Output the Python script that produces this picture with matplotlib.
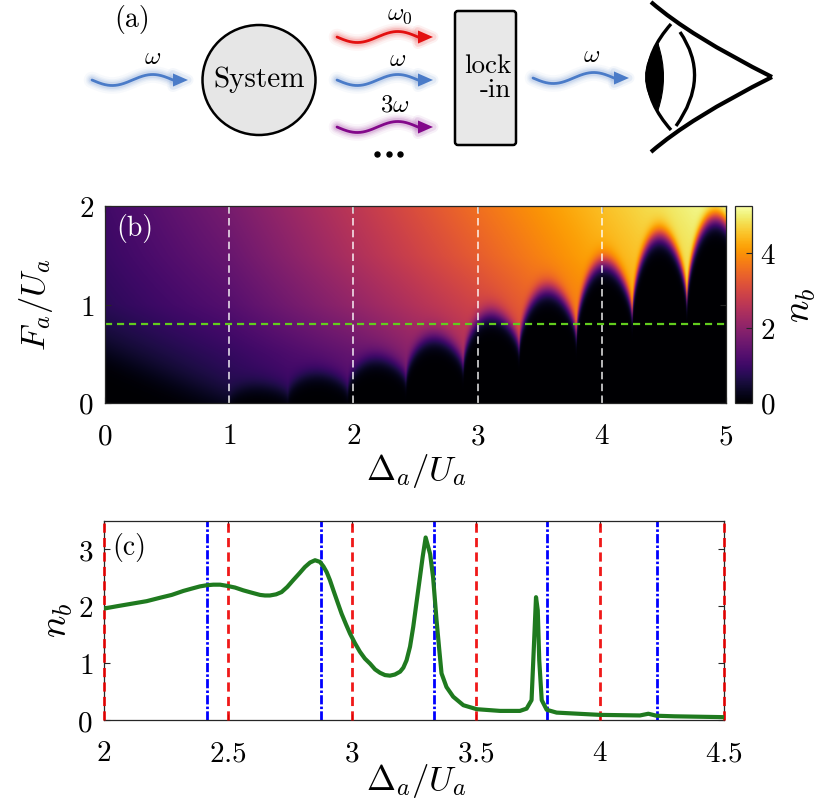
import numpy as np
import matplotlib
matplotlib.use('Agg')
import matplotlib.pyplot as plt
from matplotlib.path import Path
from matplotlib.patches import PathPatch, Ellipse, FancyBboxPatch, Polygon

plt.rcParams['mathtext.fontset'] = 'cm'
plt.rcParams['font.family'] = ['DejaVu Serif']
RM = 'cmr10'

# ------------------------------------------------------------------ data
# panel (b): background level of n_b read on a coarse grid
delta_grid = [0, 1, 2, 3, 4, 5]
F_grid = [0, 0.5, 1, 1.5, 2]
bg_vals = [[0.00, 0.60, 1.10, 2.00, 3.20, 4.30],
           [0.40, 0.90, 1.50, 2.50, 3.60, 4.60],
           [0.80, 1.30, 2.10, 2.95, 4.00, 4.90],
           [0.95, 1.55, 2.45, 3.35, 4.30, 5.10],
           [1.05, 1.75, 2.65, 3.60, 4.50, 5.30]]
# resonance dips (Delta position, lowest F of the bright spike) and dome tops
dip_pos = [1.00, 1.47, 1.95, 2.42, 2.88, 3.33, 3.79, 4.24, 4.68, 5.14]
dip_tip = [0.00, 0.05, 0.10, 0.21, 0.33, 0.52, 0.64, 0.84, 0.98, 1.10]
dome_top = [0.16, 0.29, 0.45, 0.66, 0.90, 1.15, 1.42, 1.70, 1.88]
left_edge_h = 0.45
b_white_lines = [1, 2, 3, 4]
b_green_line = 0.8
b_xticks = [0, 1, 2, 3, 4, 5]
b_yticks = [0, 1, 2]
cb_ticks = [0, 2, 4]
cb_max = 5.27

# panel (c)
c_delta = [2.000, 2.051, 2.118, 2.172, 2.226, 2.273, 2.320, 2.353, 2.387, 2.414,
           2.441, 2.468, 2.495, 2.528, 2.562, 2.595, 2.629, 2.649, 2.669, 2.694,
           2.716, 2.739, 2.763, 2.788, 2.810, 2.831, 2.851, 2.871, 2.885, 2.898,
           2.911, 2.925, 2.941, 2.958, 2.976, 2.992, 3.012, 3.032, 3.052, 3.073,
           3.093, 3.113, 3.133, 3.153, 3.173, 3.194, 3.207, 3.220, 3.234, 3.247,
           3.260, 3.274, 3.285, 3.297, 3.315, 3.327, 3.341, 3.352, 3.361, 3.381,
           3.408, 3.449, 3.503, 3.597, 3.677, 3.704, 3.724, 3.734, 3.742, 3.749,
           3.755, 3.765, 3.785, 3.825, 4.000, 4.161, 4.195, 4.228, 4.300, 4.500]
c_nb = [1.96, 2.00, 2.05, 2.09, 2.15, 2.20, 2.27, 2.31, 2.35, 2.37,
        2.38, 2.38, 2.36, 2.33, 2.28, 2.24, 2.20, 2.19, 2.19, 2.21,
        2.25, 2.34, 2.46, 2.58, 2.69, 2.77, 2.81, 2.78, 2.70, 2.60,
        2.46, 2.28, 2.08, 1.87, 1.68, 1.52, 1.35, 1.20, 1.08, 0.99,
        0.89, 0.83, 0.79, 0.78, 0.80, 0.85, 0.92, 1.05, 1.29, 1.64,
        2.06, 2.51, 2.87, 3.21, 2.92, 2.51, 1.75, 1.23, 0.82, 0.58,
        0.41, 0.26, 0.19, 0.16, 0.16, 0.20, 0.35, 1.35, 2.16, 1.93,
        1.05, 0.35, 0.18, 0.13, 0.09, 0.08, 0.11, 0.075, 0.065, 0.05]
c_red = [2.0, 2.5, 3.0, 3.5, 4.0, 4.5]
c_blue = [2.415, 2.875, 3.33, 3.786, 4.23]
c_xticks = [2, 2.5, 3, 3.5, 4, 4.5]
c_yticks = [0, 1, 2, 3]

# ------------------------------------------------------------------ figure
W, H = 830, 808
fig = plt.figure(figsize=(W / 100, H / 100), dpi=100)


def fr(l, t, r, b):
    return [l / W, 1 - b / H, (r - l) / W, (b - t) / H]


def ftxt(x, y, s, **kw):
    fig.text(x / W, 1 - y / H, s, **kw)


EDGE = '#262626'


def style_axes(ax):
    for sp in ax.spines.values():
        sp.set_color(EDGE)
        sp.set_linewidth(0.9)
    ax.tick_params(direction='in', top=True, right=True, length=4,
                   width=0.8, color=EDGE, labelsize=21)
    ax.tick_params(axis='x', pad=14)
    ax.tick_params(axis='y', pad=8)


def lab(v):
    return '$%g$' % v

# ------------------------------------------------------------------ (a) schematic
axa = fig.add_axes([0, 1 - 170 / H, 1, 170 / H])
axa.set_xlim(0, W)
axa.set_ylim(170, 0)
axa.axis('off')


def wavy(x0, x1, y0, color):
    hl = 15
    xe = x1 - hl
    xs = np.linspace(x0, xe + 2, 200)
    t = (xs - x0) / (xe - x0)
    ys = y0 + 5.5 * np.sin(2 * np.pi * t)
    for lw, a in [(12, 0.04), (9, 0.06), (7, 0.08), (5, 0.12)]:
        axa.plot(xs, ys, color=color, lw=lw, alpha=a, solid_capstyle='round')
    axa.plot(xs, ys, color=color, lw=2.0, solid_capstyle='round')
    tri = [[xe, y0 - 6.5], [x1, y0], [xe, y0 + 6.5]]
    for lw, a in [(8, 0.06), (5, 0.1)]:
        axa.add_patch(Polygon(tri, closed=True, facecolor='none', edgecolor=color,
                              lw=lw, alpha=a, joinstyle='round'))
    axa.add_patch(Polygon(tri, closed=True, color=color, lw=0))


BLUE = '#4a7bc8'
wavy(92, 188, 80, BLUE)
wavy(337, 433, 37, '#e31010')
wavy(337, 433, 80, BLUE)
wavy(337, 433, 127, '#83088a')
wavy(533, 629, 78, BLUE)

axa.add_patch(Ellipse((259, 80), 113, 110, facecolor='#e6e6e6', edgecolor='black', lw=1.8))
axa.text(259, 80, 'System', family=RM, ha='center', va='center', fontsize=21)

axa.add_patch(FancyBboxPatch((455, 11), 61, 134, boxstyle='round,pad=0,rounding_size=3',
                             facecolor='#e8e8e8', edgecolor='black', lw=1.8))
axa.text(511, 66, 'lock', family=RM, ha='right', va='center', fontsize=19.5)
axa.text(511, 90, '-in', family=RM, ha='right', va='center', fontsize=19.5)

axa.text(153, 57, r'$\omega$', ha='center', va='center', fontsize=18)
axa.text(400, 14, r'$\omega_0$', ha='center', va='center', fontsize=18)
axa.text(398, 59, r'$\omega$', ha='center', va='center', fontsize=18)
axa.text(395, 105, r'$3\omega$', ha='center', va='center', fontsize=18)
axa.text(592, 55, r'$\omega$', ha='center', va='center', fontsize=18)
axa.plot([377, 388.5, 400], [154, 154, 154], 'o', color='black', ms=3.6)
axa.text(132, 19, '(a)', family=RM, ha='center', va='center', fontsize=20)


def qcurve(p0, c, p1, **kw):
    path = Path([p0, c, p1], [Path.MOVETO, Path.CURVE3, Path.CURVE3])
    axa.add_patch(PathPatch(path, facecolor='none', **kw))


# eye
qcurve((651, 2), (690, 36), (772, 77), edgecolor='black', lw=3.0, capstyle='butt')
qcurve((651, 152), (690, 118), (772, 77), edgecolor='black', lw=3.0, capstyle='butt')
iris = Path([(658, 44), (633, 77), (658, 110), (669, 77), (658, 44)],
            [Path.MOVETO, Path.CURVE3, Path.CURVE3, Path.CURVE3, Path.CURVE3])
axa.add_patch(PathPatch(iris, facecolor='black', edgecolor='black', lw=0.8))
qcurve((671, 24), (624, 77), (671, 130), edgecolor='black', lw=2.4)
qcurve((680, 32), (711, 77), (676, 126), edgecolor='black', lw=2.4)

# ------------------------------------------------------------------ (b) map
axb = fig.add_axes(fr(105, 206, 726, 403))
nx, ny = 1200, 500
dx = np.linspace(0, 5, nx)
fy = np.linspace(0, 2, ny)
bg_rows = np.array([np.interp(dx, delta_grid, row) for row in bg_vals])
bg = np.empty((ny, nx))
for j in range(nx):
    bg[:, j] = np.interp(fy, F_grid, bg_rows[:, j])
h = np.zeros(nx)
w = np.full(nx, 0.055)
left = dx < dip_pos[0]
h[left] = left_edge_h * (1 - dx[left] / dip_pos[0]) ** 1.2
w[left] = 0.10
for k in range(len(dome_top)):
    a, b = dip_pos[k], dip_pos[k + 1]
    sel = (dx >= a) & (dx < b)
    t = (dx[sel] - a) / (b - a)
    lo = dip_tip[k] + (dip_tip[k + 1] - dip_tip[k]) * t
    h[sel] = lo + (dome_top[k] - lo) * np.sin(np.pi * t) ** 0.5
S = 1.0 / (1.0 + np.exp(-(fy[:, None] - h[None, :]) / w[None, :]))
nb = bg * S
im = axb.imshow(nb, extent=[0, 5, 0, 2], origin='lower', aspect='auto',
                cmap='inferno', vmin=0, vmax=cb_max, interpolation='bilinear')
for xv in b_white_lines:
    axb.axvline(xv, color='white', lw=1.2, alpha=0.85, dashes=(4.5, 2.6))
axb.axhline(b_green_line, color='#62cc1e', lw=1.6, dashes=(3.2, 2.2))
axb.set_xlim(0, 5)
axb.set_ylim(0, 2)
axb.set_xticks(b_xticks)
axb.set_xticklabels([lab(v) for v in b_xticks])
axb.set_yticks(b_yticks)
axb.set_yticklabels([lab(v) for v in b_yticks])
style_axes(axb)
ftxt(135, 229, '(b)', family=RM, color='white', ha='center', va='center', fontsize=20)
ftxt(416, 471, r'$\Delta_a/U_a$', ha='center', va='center', fontsize=25)
ftxt(36, 305, r'$F_a/U_a$', ha='center', va='center', fontsize=25, rotation=90)

cax = fig.add_axes(fr(735, 206, 752, 403))
cb = fig.colorbar(im, cax=cax, ticks=cb_ticks)
cb.ax.set_yticklabels([lab(v) for v in cb_ticks])
cb.ax.tick_params(direction='in', length=4, width=0.8, color=EDGE, labelsize=21, pad=6)
cb.outline.set_edgecolor(EDGE)
cb.outline.set_linewidth(0.9)
ftxt(800, 305, r'$n_b$', ha='center', va='center', fontsize=27, rotation=90)

# ------------------------------------------------------------------ (c) line
axc = fig.add_axes(fr(104, 521, 724, 720))
for xv in c_red:
    axc.axvline(xv, color='#ee0000', lw=2.0, dashes=(3.3, 1.9), zorder=2.6,
                alpha=0.9, clip_on=False)
for xv in c_blue:
    axc.axvline(xv, color='#0000ff', lw=2.0, dashes=(3.3, 0.8, 0.9, 0.8), zorder=1)
axc.plot(c_delta, c_nb, color='#1f7a1f', lw=3.0, zorder=3, solid_joinstyle='round')
axc.set_xlim(2, 4.5)
axc.set_ylim(0, 3.5)
axc.set_xticks(c_xticks)
axc.set_xticklabels([lab(v) for v in c_xticks])
axc.set_yticks(c_yticks)
axc.set_yticklabels([lab(v) for v in c_yticks])
style_axes(axc)
ftxt(129, 548, '(c)', family=RM, ha='center', va='center', fontsize=20)
ftxt(416, 781, r'$\Delta_a/U_a$', ha='center', va='center', fontsize=25)
ftxt(57, 620, r'$n_b$', ha='center', va='center', fontsize=27, rotation=90)

fig.savefig('out.png', dpi=100)
